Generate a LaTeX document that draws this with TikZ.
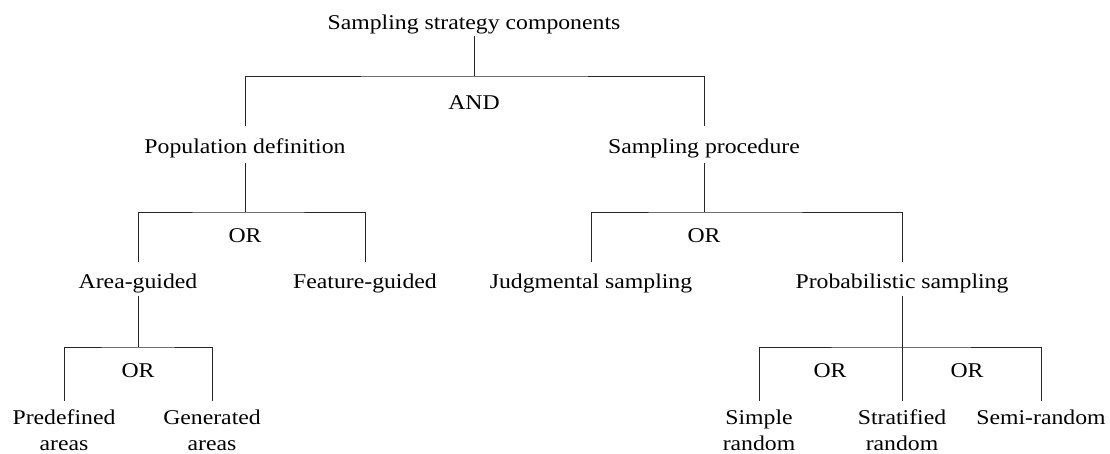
\documentclass[tikz,border=0pt]{standalone}
\usepackage{fontspec}
\setmainfont[FakeStretch=1.13]{Liberation Serif}
\usepackage{tikz}

\begin{document}
\begin{tikzpicture}[x=1pt,y=-1pt,
	lbl/.style={inner sep=0pt,font=\fontsize{21}{26}\selectfont,anchor=base},
	leaf/.style={inner sep=0pt,font=\fontsize{21}{26}\selectfont,anchor=north,align=center},
	edge/.style={line width=0.8pt,black!85}]
	\useasboundingbox (0,0) rectangle (1110,454);

	\node[lbl] (root) at (474,30) {Sampling strategy components};
	\node[lbl] (and) at (474,110) {AND};
	\node[lbl] (pop) at (245,154) {Population definition};
	\node[lbl] (proc) at (704,154) {Sampling procedure};
	\node[lbl] (area) at (138,288) {Area-guided};
	\node[lbl] (feat) at (365,288) {Feature-guided};
	\node[lbl] (judg) at (591,288) {Judgmental sampling};
	\node[lbl] (prob) at (902,288) {Probabilistic sampling};
	\node[leaf] (pre) at (64,410) {Predefined\\areas};
	\node[leaf] (gen) at (212,410) {Generated\\areas};
	\node[leaf] (simple) at (759,410) {Simple\\random};
	\node[leaf] (strat) at (902,410) {Stratified\\random};
	\node[leaf] (semi) at (1041,410) {Semi-random};
	\foreach \x/\y [count=\i] in {245/243,704/243,138/377,830/377,967/377}{
		\node[lbl] (or\i) at (\x,\y) {OR};
	}

	\coordinate (bar1) at (474,76);
	\coordinate (bar2) at (245,212);
	\coordinate (bar3) at (704,212);
	\coordinate (bar4) at (138,347);
	\coordinate (bar5) at (902,347);

	\draw[edge,shorten <=1pt] (root.south) -- (bar1);
	\draw[edge,shorten <=13pt,shorten >=13pt] (pop.north) |- (bar1) -| (proc.north);
	\draw[edge,shorten <=4pt] (pop.south) -- (bar2);
	\draw[edge,shorten <=11pt,shorten >=11pt] (area.north) |- (bar2) -| (feat.north);
	\draw[edge,shorten <=4pt] (proc.south) -- (bar3);
	\draw[edge,shorten <=11pt,shorten >=11pt] (judg.north) |- (bar3) -| (prob.north);
	\draw[edge,shorten <=3pt] (area.south) -- (bar4);
	\draw[edge,shorten <=9pt,shorten >=9pt] (pre.north) |- (bar4) -| (gen.north);
	\draw[edge,shorten <=3pt,shorten >=9pt] (prob.south) -- (strat.north);
	\draw[edge,shorten <=9pt,shorten >=9pt] (simple.north) |- (bar5) -| (semi.north);
\end{tikzpicture}
\end{document}
